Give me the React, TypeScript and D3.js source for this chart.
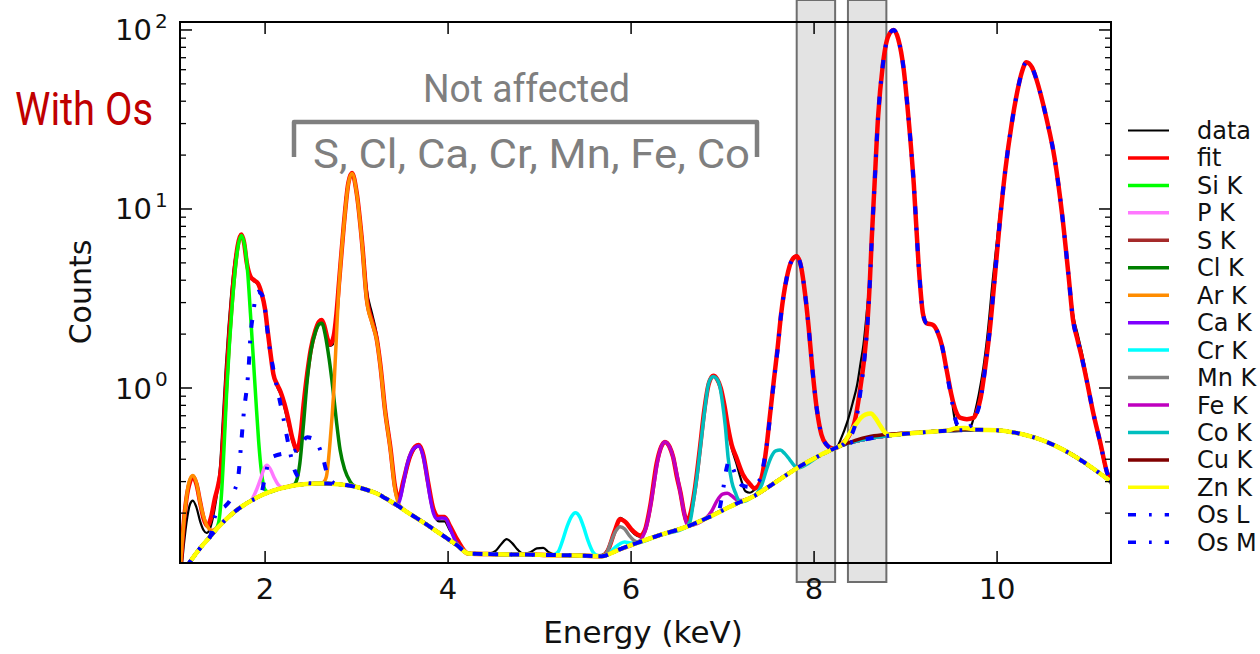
import React from "react";
import * as d3 from "d3";

type Pt = [number, number];

// ---------------- DATA (energy keV, counts) ----------------
const background: Pt[] = [
  [1.14, 0.1], [1.18, 0.107], [1.25, 0.12], [1.32, 0.133], [1.4, 0.148], [1.48, 0.165], [1.55, 0.18],
  [1.62, 0.194], [1.69, 0.208], [1.77, 0.222], [1.85, 0.235], [1.95, 0.25], [2.05, 0.263], [2.15, 0.273],
  [2.25, 0.281], [2.35, 0.287], [2.45, 0.291], [2.55, 0.293], [2.67, 0.293], [2.8, 0.29], [2.9, 0.286],
  [3.0, 0.28], [3.1, 0.271], [3.2, 0.26], [3.33, 0.24], [3.45, 0.22], [3.57, 0.2], [3.69, 0.183],
  [3.8, 0.168], [3.95, 0.149], [4.1, 0.132], [4.22, 0.119], [4.5, 0.118], [5.0, 0.117], [5.4, 0.116],
  [5.68, 0.115], [5.85, 0.124], [6.06, 0.136], [6.3, 0.15], [6.61, 0.168], [6.85, 0.19], [7.0, 0.207],
  [7.15, 0.226], [7.33, 0.247], [7.5, 0.28], [7.65, 0.315], [7.81, 0.356], [8.07, 0.422], [8.23, 0.462],
  [8.4, 0.495], [8.6, 0.522], [8.78, 0.539], [9.0, 0.555], [9.2, 0.566], [9.4, 0.575], [9.6, 0.581],
  [9.8, 0.584], [10.0, 0.58], [10.15, 0.568], [10.3, 0.548], [10.5, 0.51], [10.65, 0.472], [10.8, 0.43],
  [10.95, 0.385], [11.1, 0.34], [11.245, 0.3],
];

const measured: Pt[] = [
  [1.08, 0.09], [1.11, 0.13], [1.15, 0.19], [1.18, 0.225], [1.21, 0.235], [1.25, 0.215], [1.29, 0.18],
  [1.33, 0.16], [1.36, 0.155], [1.4, 0.165], [1.44, 0.2], [1.48, 0.27], [1.51, 0.38], [1.54, 0.7],
  [1.57, 1.3], [1.6, 2.2], [1.63, 3.4], [1.66, 4.8], [1.7, 6.3], [1.74, 7.1], [1.77, 6.4], [1.8, 5.0],
  [1.84, 4.2], [1.88, 3.95], [1.92, 3.8], [1.96, 3.3], [2.0, 2.7], [2.03, 2.0], [2.06, 1.5], [2.09, 1.18],
  [2.13, 1.02], [2.17, 0.92], [2.21, 0.78], [2.25, 0.64], [2.3, 0.5], [2.35, 0.44], [2.39, 0.54],
  [2.42, 0.78], [2.46, 1.18], [2.5, 1.62], [2.55, 2.1], [2.59, 2.3], [2.62, 2.35], [2.65, 2.15],
  [2.68, 1.9], [2.71, 1.72], [2.74, 1.75], [2.77, 2.2], [2.8, 3.4], [2.85, 7.5], [2.9, 13.5], [2.95, 15.6],
  [3.0, 12.6], [3.06, 7.0], [3.11, 3.6], [3.17, 2.6], [3.22, 2.0], [3.26, 1.4], [3.31, 0.8], [3.37, 0.48],
  [3.42, 0.29], [3.46, 0.245], [3.51, 0.29], [3.58, 0.4], [3.64, 0.46], [3.68, 0.47], [3.73, 0.41],
  [3.78, 0.29], [3.84, 0.2], [3.9, 0.18], [3.96, 0.18], [4.02, 0.16], [4.1, 0.138], [4.22, 0.119],
  [4.35, 0.118], [4.45, 0.119], [4.52, 0.123], [4.58, 0.134], [4.64, 0.143], [4.7, 0.136], [4.76, 0.125],
  [4.82, 0.119], [4.9, 0.121], [4.97, 0.127], [5.04, 0.128], [5.1, 0.121], [5.18, 0.117], [5.3, 0.117],
  [5.45, 0.116], [5.6, 0.116], [5.68, 0.117], [5.75, 0.127], [5.82, 0.16], [5.88, 0.188], [5.94, 0.178],
  [6.0, 0.16], [6.06, 0.15], [6.1, 0.148], [6.15, 0.16], [6.21, 0.22], [6.28, 0.38], [6.33, 0.47],
  [6.37, 0.5], [6.42, 0.47], [6.46, 0.41], [6.5, 0.32], [6.54, 0.26], [6.58, 0.2], [6.61, 0.18],
  [6.65, 0.2], [6.7, 0.28], [6.75, 0.45], [6.8, 0.75], [6.85, 1.06], [6.9, 1.17], [6.94, 1.12],
  [6.98, 1.0], [7.02, 0.78], [7.06, 0.57], [7.1, 0.46], [7.15, 0.38], [7.2, 0.31], [7.25, 0.265],
  [7.3, 0.26], [7.35, 0.27], [7.4, 0.29], [7.44, 0.34], [7.48, 0.47], [7.52, 0.72], [7.56, 1.1],
  [7.6, 1.65], [7.64, 2.6], [7.7, 4.1], [7.76, 5.25], [7.81, 5.5], [7.86, 4.7], [7.9, 3.4], [7.94, 2.2],
  [7.98, 1.3], [8.03, 0.76], [8.08, 0.55], [8.14, 0.48], [8.2, 0.46], [8.25, 0.47], [8.3, 0.53],
  [8.36, 0.64], [8.42, 0.82], [8.47, 1.04], [8.51, 1.4], [8.54, 1.75], [8.58, 2.8], [8.61, 4.3],
  [8.63, 6.9], [8.66, 13.5], [8.7, 33], [8.75, 63], [8.81, 92], [8.87, 100], [8.92, 89], [8.98, 60],
  [9.03, 33], [9.09, 13.7], [9.14, 5.1], [9.19, 2.6], [9.23, 2.3], [9.3, 2.25], [9.35, 2.05], [9.4, 1.7],
  [9.45, 1.25], [9.5, 0.9], [9.53, 0.7], [9.56, 0.61], [9.6, 0.58], [9.66, 0.58], [9.72, 0.62],
  [9.76, 0.74], [9.8, 0.92], [9.85, 1.3], [9.9, 2.1], [9.95, 3.9], [10.02, 8.5], [10.09, 16.5],
  [10.16, 30], [10.22, 45], [10.27, 58], [10.32, 66], [10.38, 62], [10.43, 53], [10.48, 43], [10.54, 32],
  [10.63, 19], [10.71, 9.6], [10.78, 4.5], [10.83, 2.6], [10.88, 2.0], [10.93, 1.55], [10.98, 1.15],
  [11.05, 0.73], [11.13, 0.47], [11.2, 0.33], [11.245, 0.29],
];

const fitted: Pt[] = [
  [1.07, 0.09], [1.1, 0.15], [1.14, 0.24], [1.18, 0.3], [1.21, 0.32], [1.25, 0.29], [1.29, 0.23],
  [1.33, 0.185], [1.37, 0.17], [1.41, 0.19], [1.45, 0.24], [1.49, 0.29], [1.52, 0.36], [1.55, 0.6],
  [1.58, 1.15], [1.61, 2.0], [1.64, 3.2], [1.67, 4.7], [1.7, 6.2], [1.74, 7.2], [1.77, 6.5], [1.8, 5.0],
  [1.84, 4.2], [1.88, 4.0], [1.92, 3.85], [1.96, 3.4], [2.0, 2.75], [2.03, 2.05], [2.06, 1.55],
  [2.09, 1.2], [2.13, 1.05], [2.17, 0.95], [2.21, 0.82], [2.25, 0.68], [2.3, 0.52], [2.35, 0.45],
  [2.39, 0.56], [2.42, 0.8], [2.46, 1.2], [2.5, 1.65], [2.55, 2.1], [2.59, 2.35], [2.62, 2.4],
  [2.65, 2.2], [2.68, 1.9], [2.71, 1.75], [2.75, 1.95], [2.78, 2.6], [2.81, 4.0], [2.86, 8.1],
  [2.91, 14.0], [2.95, 15.9], [3.0, 12.4], [3.06, 6.5], [3.11, 3.2], [3.17, 2.35], [3.22, 1.88],
  [3.26, 1.34], [3.31, 0.76], [3.37, 0.46], [3.42, 0.28], [3.46, 0.24], [3.51, 0.3], [3.58, 0.41],
  [3.64, 0.47], [3.68, 0.48], [3.73, 0.42], [3.78, 0.3], [3.84, 0.21], [3.9, 0.19], [3.96, 0.19],
  [4.02, 0.17], [4.1, 0.142], [4.22, 0.119], [4.5, 0.118], [5.0, 0.117], [5.4, 0.116], [5.68, 0.115],
  [5.75, 0.125], [5.82, 0.158], [5.88, 0.185], [5.94, 0.178], [6.0, 0.163], [6.06, 0.153], [6.1, 0.15],
  [6.15, 0.16], [6.21, 0.22], [6.28, 0.38], [6.33, 0.47], [6.37, 0.5], [6.42, 0.47], [6.46, 0.41],
  [6.5, 0.32], [6.54, 0.26], [6.58, 0.2], [6.61, 0.18], [6.65, 0.2], [6.7, 0.28], [6.75, 0.45],
  [6.8, 0.75], [6.85, 1.06], [6.9, 1.17], [6.94, 1.12], [6.98, 1.0], [7.02, 0.8], [7.06, 0.6],
  [7.1, 0.48], [7.15, 0.41], [7.22, 0.33], [7.3, 0.29], [7.35, 0.275], [7.4, 0.29], [7.44, 0.34],
  [7.48, 0.47], [7.52, 0.72], [7.56, 1.1], [7.6, 1.65], [7.64, 2.6], [7.7, 4.1], [7.76, 5.2],
  [7.81, 5.45], [7.86, 4.7], [7.9, 3.4], [7.94, 2.2], [7.98, 1.3], [8.03, 0.76], [8.08, 0.55],
  [8.14, 0.48], [8.2, 0.46], [8.25, 0.465], [8.33, 0.5], [8.44, 0.64], [8.51, 1.04], [8.55, 1.5],
  [8.58, 2.2], [8.61, 4.0], [8.63, 6.8], [8.66, 13.5], [8.7, 33], [8.75, 63], [8.81, 92], [8.87, 100],
  [8.92, 89], [8.98, 60], [9.03, 33], [9.09, 13.7], [9.14, 5.1], [9.19, 2.6], [9.23, 2.3], [9.3, 2.25],
  [9.35, 2.05], [9.4, 1.7], [9.45, 1.25], [9.5, 0.92], [9.55, 0.74], [9.6, 0.68], [9.67, 0.67],
  [9.74, 0.68], [9.78, 0.74], [9.82, 0.88], [9.87, 1.3], [9.92, 2.1], [9.97, 3.9], [10.03, 8.5],
  [10.09, 16.5], [10.16, 30], [10.22, 45], [10.27, 58], [10.32, 66], [10.38, 62], [10.43, 53],
  [10.48, 43], [10.54, 32], [10.63, 19], [10.71, 9.4], [10.78, 4.3], [10.83, 2.4], [10.88, 1.85],
  [10.93, 1.45], [10.98, 1.1], [11.05, 0.73], [11.13, 0.49], [11.2, 0.34], [11.245, 0.3],
];

// element components: peak parts (on top of the background)
const siK: Pt[][] = [[
  [1.45, 0.16], [1.49, 0.175], [1.52, 0.24], [1.55, 0.45], [1.58, 0.95], [1.61, 1.75], [1.64, 2.9],
  [1.67, 4.4], [1.7, 6.0], [1.74, 7.1], [1.78, 6.1], [1.81, 4.4], [1.84, 2.6], [1.87, 1.5], [1.9, 0.85],
  [1.93, 0.5], [1.96, 0.34], [2.0, 0.27], [2.04, 0.262],
]];
const pK: Pt[][] = [[
  [1.8, 0.228], [1.85, 0.236], [1.9, 0.265], [1.95, 0.31], [1.99, 0.355], [2.02, 0.37], [2.06, 0.35],
  [2.1, 0.315], [2.14, 0.29], [2.19, 0.278],
]];
const sK: Pt[][] = [[[2.2, 0.277], [2.3, 0.286], [2.4, 0.29]]];
const clK: Pt[][] = [[
  [2.3, 0.284], [2.34, 0.3], [2.38, 0.38], [2.42, 0.63], [2.46, 1.1], [2.5, 1.6], [2.55, 2.05],
  [2.59, 2.27], [2.62, 2.3], [2.66, 1.95], [2.7, 1.45], [2.74, 1.0], [2.78, 0.65], [2.82, 0.45],
  [2.87, 0.35], [2.93, 0.3], [2.98, 0.282],
]];
const arK: Pt[][] = [
  [[1.05, 0.06], [1.09, 0.13], [1.13, 0.22], [1.17, 0.3], [1.21, 0.325], [1.25, 0.295], [1.29, 0.23],
   [1.33, 0.19], [1.37, 0.168], [1.42, 0.16], [1.47, 0.165]],
  [[2.6, 0.293], [2.64, 0.298], [2.67, 0.32], [2.71, 0.5], [2.75, 0.95], [2.8, 3.2], [2.86, 8.0],
   [2.91, 13.9], [2.95, 15.8], [3.0, 12.3], [3.06, 6.4], [3.11, 3.1], [3.17, 2.3], [3.22, 1.85],
   [3.26, 1.32], [3.31, 0.75], [3.37, 0.45], [3.42, 0.27], [3.46, 0.225], [3.5, 0.213]],
];
const caK: Pt[][] = [[
  [3.44, 0.222], [3.47, 0.235], [3.51, 0.29], [3.55, 0.37], [3.6, 0.44], [3.65, 0.47], [3.68, 0.475],
  [3.72, 0.43], [3.76, 0.34], [3.8, 0.25], [3.84, 0.2], [3.88, 0.186], [3.93, 0.188], [3.97, 0.187],
  [4.02, 0.165], [4.08, 0.14], [4.15, 0.126], [4.22, 0.119],
]];
const crK: Pt[][] = [
  [[5.15, 0.117], [5.2, 0.121], [5.25, 0.14], [5.3, 0.168], [5.35, 0.192], [5.39, 0.201], [5.44, 0.19],
   [5.48, 0.168], [5.53, 0.14], [5.58, 0.122], [5.63, 0.116]],
  [[5.75, 0.119], [5.82, 0.128], [5.88, 0.135], [5.93, 0.138], [5.99, 0.136], [6.05, 0.136]],
];
const mnK: Pt[][] = [[
  [5.7, 0.116], [5.74, 0.122], [5.78, 0.138], [5.83, 0.158], [5.88, 0.168], [5.93, 0.163],
  [5.98, 0.15], [6.03, 0.141], [6.08, 0.138],
]];
const feK: Pt[][] = [
  [[6.08, 0.138], [6.12, 0.145], [6.17, 0.17], [6.21, 0.215], [6.25, 0.29], [6.29, 0.39], [6.33, 0.47],
   [6.37, 0.5], [6.41, 0.48], [6.46, 0.41], [6.5, 0.33], [6.54, 0.258], [6.58, 0.2], [6.62, 0.17]],
  [[6.82, 0.188], [6.88, 0.205], [6.94, 0.235], [7.0, 0.255], [7.05, 0.258], [7.1, 0.25], [7.15, 0.238],
   [7.2, 0.235]],
];
const coK: Pt[][] = [
  [[6.6, 0.167], [6.645, 0.18], [6.68, 0.23], [6.72, 0.32], [6.76, 0.48], [6.8, 0.72], [6.845, 1.05],
   [6.87, 1.13], [6.9, 1.16], [6.94, 1.12], [6.97, 1.02], [7.0, 0.82], [7.03, 0.61], [7.06, 0.41],
   [7.1, 0.3], [7.14, 0.26], [7.18, 0.235], [7.22, 0.232]],
  [[7.38, 0.26], [7.43, 0.29], [7.48, 0.35], [7.53, 0.41], [7.58, 0.445], [7.63, 0.45], [7.68, 0.43],
   [7.73, 0.4], [7.78, 0.37], [7.82, 0.358]],
];
const cuK: Pt[][] = [[
  [8.3, 0.477], [8.45, 0.51], [8.6, 0.535], [8.75, 0.548], [8.9, 0.556], [9.05, 0.562], [9.3, 0.572],
  [9.5, 0.58], [9.65, 0.585],
]];
const znK: Pt[][] = [
  [[8.26, 0.468], [8.32, 0.49], [8.4, 0.57], [8.46, 0.63], [8.51, 0.68], [8.56, 0.71], [8.62, 0.72],
   [8.67, 0.68], [8.72, 0.62], [8.78, 0.56], [8.84, 0.545]],
  [[9.45, 0.578], [9.55, 0.595], [9.65, 0.597], [9.75, 0.588]],
];
const osL: Pt[][] = [
  [[1.95, 0.25], [2.0, 0.32], [2.05, 0.4], [2.12, 0.42], [2.2, 0.43], [2.3, 0.44], [2.38, 0.47],
   [2.46, 0.53], [2.53, 0.52], [2.58, 0.48], [2.63, 0.41], [2.68, 0.33], [2.73, 0.3], [2.78, 0.291]],
  [[6.95, 0.2], [7.0, 0.26], [7.04, 0.35], [7.07, 0.39], [7.11, 0.36], [7.16, 0.31], [7.22, 0.285],
   [7.3, 0.28], [7.36, 0.29], [7.41, 0.31], [7.45, 0.38], [7.48, 0.47], [7.52, 0.7], [7.56, 1.08],
   [7.6, 1.62], [7.64, 2.6], [7.7, 4.1], [7.76, 5.2], [7.81, 5.45], [7.86, 4.7], [7.9, 3.4], [7.94, 2.2],
   [7.98, 1.3], [8.03, 0.76], [8.08, 0.55], [8.14, 0.48], [8.2, 0.46], [8.25, 0.465], [8.33, 0.49],
   [8.44, 0.6], [8.51, 0.98], [8.55, 1.45], [8.58, 2.15], [8.61, 3.9], [8.63, 6.7], [8.66, 13.4],
   [8.7, 33], [8.75, 63], [8.81, 92], [8.87, 100], [8.92, 89], [8.98, 60], [9.03, 33], [9.09, 13.7],
   [9.14, 5.1], [9.19, 2.6], [9.23, 2.3], [9.3, 2.25], [9.35, 2.05], [9.4, 1.7], [9.45, 1.22],
   [9.5, 0.88], [9.54, 0.68], [9.58, 0.61], [9.65, 0.6], [9.72, 0.62], [9.77, 0.7], [9.82, 0.86],
   [9.87, 1.3], [9.92, 2.1], [9.97, 3.9], [10.03, 8.5], [10.09, 16.5], [10.16, 30], [10.22, 45],
   [10.27, 58], [10.32, 66], [10.38, 62], [10.43, 53], [10.48, 43], [10.54, 32], [10.63, 19],
   [10.71, 9.4], [10.78, 4.3], [10.83, 2.4], [10.88, 1.85], [10.93, 1.45], [10.98, 1.1], [11.05, 0.73],
   [11.13, 0.49], [11.2, 0.34], [11.245, 0.3]],
];
const osM: Pt[][] = [[
  [1.4, 0.148], [1.45, 0.19], [1.5, 0.21], [1.56, 0.218], [1.62, 0.237], [1.67, 0.27], [1.71, 0.33],
  [1.74, 0.5], [1.77, 0.75], [1.8, 1.0], [1.82, 1.3], [1.84, 1.95], [1.87, 2.6], [1.89, 3.1],
  [1.92, 3.45], [1.96, 3.35], [1.99, 3.0], [2.02, 2.2], [2.06, 1.55], [2.1, 1.2], [2.15, 0.9],
  [2.2, 0.68], [2.26, 0.47], [2.32, 0.35], [2.38, 0.31], [2.45, 0.295],
]];

const seriesNames = ["data", "fit", "Si K", "P K", "S K", "Cl K", "Ar K", "Ca K", "Cr K", "Mn K",
  "Fe K", "Co K", "Cu K", "Zn K", "Os L", "Os M"];
const componentParts: Pt[][][] = [siK, pK, sK, clK, arK, caK, crK, mnK, feK, coK, cuK, znK, osL, osM];

const xTickValues = [2, 4, 6, 8, 10];
const yDecades = [0, 1, 2];
const highlightBands: Pt[] = [[7.81, 8.23], [8.37, 8.79]];
const annotationTitle = "Not affected";
const annotationElements = "S, Cl, Ca, Cr, Mn, Fe, Co";
const sideLabel = "With Os";

// ---------------- STYLES ----------------
const seriesStyle: Record<string, { color: string; width: number; dash?: string }> = {
  "data": { color: "#000000", width: 2.2 },
  "fit": { color: "#ff0000", width: 4.5 },
  "Si K": { color: "#00ff00", width: 3.5 },
  "P K": { color: "#ff77ff", width: 3.5 },
  "S K": { color: "#a52a2a", width: 3.5 },
  "Cl K": { color: "#008000", width: 3.5 },
  "Ar K": { color: "#ff8c00", width: 3.5 },
  "Ca K": { color: "#7f00ff", width: 3.5 },
  "Cr K": { color: "#00ffff", width: 3.5 },
  "Mn K": { color: "#808080", width: 3.5 },
  "Fe K": { color: "#bf00bf", width: 3.5 },
  "Co K": { color: "#00bfbf", width: 3.5 },
  "Cu K": { color: "#800000", width: 3.5 },
  "Zn K": { color: "#ffff00", width: 4.5 },
  "Os L": { color: "#0000ff", width: 4, dash: "8,13,2.7,13" },
  "Os M": { color: "#0000ff", width: 4, dash: "8,13,2.7,13" },
};

function compose(parts: Pt[][]): Pt[] {
  const ranges = parts.map((p) => [p[0][0], p[p.length - 1][0]]);
  const base = background.filter(([e]) => !ranges.some(([a, b]) => e >= a - 0.01 && e <= b + 0.01));
  return [...base, ...parts.flat()].sort((a, b) => a[0] - b[0]);
}

export default function App() {
  const W = 1260, H = 654;
  const L = 180, R = 1111, T = 22, B = 563;
  const x = d3.scaleLinear().domain([1.07, 11.245]).range([L, R]);
  const y = d3.scaleLog().domain([0.1053, 110.8]).range([B, T]);
  const line = d3.line<Pt>().x((d) => x(d[0])).y((d) => y(d[1])).curve(d3.curveMonotoneX);

  const allSeries: Pt[][] = [measured, fitted, ...componentParts.map(compose)];

  const minorTicks: number[] = [];
  for (let d = -1; d <= 2; d++) {
    for (let k = 2; k <= 9; k++) {
      const v = k * Math.pow(10, d);
      if (v > 0.1053 && v < 110.8) minorTicks.push(v);
    }
  }
  const tickFont = "'DejaVu Sans', sans-serif";
  const textColor = "#111";
  const rowY = (i: number) => 130.5 + i * 27.45;

  return (
    <svg width={W} height={H} style={{ position: "absolute", left: 0, top: 0, background: "#fff" }}>
      <defs>
        <clipPath id="plotClip">
          <rect x={L} y={T} width={R - L} height={B - T} />
        </clipPath>
      </defs>
      <rect x={0} y={0} width={W} height={H} fill="#fff" />
      {highlightBands.map(([a, b], i) => (
        <rect key={i} x={x(a)} y={0} width={x(b) - x(a)} height={582} fill="#e3e3e3" stroke="#6e6e6e" strokeWidth={2} />
      ))}
      <g clipPath="url(#plotClip)">
        {allSeries.map((pts, i) => {
          const st = seriesStyle[seriesNames[i]];
          return (
            <path key={i} d={line(pts) || ""} fill="none" stroke={st.color} strokeWidth={st.width}
              strokeDasharray={st.dash} strokeLinejoin="round" />
          );
        })}
      </g>
      {/* frame */}
      <rect x={L} y={T} width={R - L} height={B - T} fill="none" stroke="#000" strokeWidth={2} />
      {/* x ticks */}
      {xTickValues.map((v) => (
        <g key={v}>
          <line x1={x(v)} x2={x(v)} y1={B} y2={B - 12} stroke="#000" strokeWidth={1.5} />
          <line x1={x(v)} x2={x(v)} y1={T} y2={T + 12} stroke="#000" strokeWidth={1.5} />
          <text x={x(v)} y={599} textAnchor="middle" fontFamily={tickFont} fontSize={29} fill={textColor}>{v}</text>
        </g>
      ))}
      {/* y ticks */}
      {yDecades.map((d) => {
        const yy = y(Math.pow(10, d));
        return (
          <g key={d}>
            <line x1={L} x2={L + 12} y1={yy} y2={yy} stroke="#000" strokeWidth={1.5} />
            <line x1={R} x2={R - 12} y1={yy} y2={yy} stroke="#000" strokeWidth={1.5} />
            <text x={152} y={yy + 10.5} textAnchor="end" fontFamily={tickFont} fontSize={29} fill={textColor}>10</text>
            <text x={155} y={yy - 2} textAnchor="start" fontFamily={tickFont} fontSize={20} fill={textColor}>{d}</text>
          </g>
        );
      })}
      {minorTicks.map((v, i) => (
        <g key={i}>
          <line x1={L} x2={L + 6} y1={y(v)} y2={y(v)} stroke="#000" strokeWidth={1.3} />
          <line x1={R} x2={R - 6} y1={y(v)} y2={y(v)} stroke="#000" strokeWidth={1.3} />
        </g>
      ))}
      {/* axis labels */}
      <text x={643} y={643} textAnchor="middle" fontFamily={tickFont} fontSize={31} fill={textColor}>Energy (keV)</text>
      <text transform="translate(91,292) rotate(-90)" textAnchor="middle" fontFamily={tickFont} fontSize={30} fill={textColor}>Counts</text>
      {/* legend */}
      {seriesNames.map((name, i) => {
        const st = seriesStyle[name];
        const ry = rowY(i);
        return (
          <g key={name}>
            <line x1={1128} x2={1169} y1={ry} y2={ry} stroke={st.color} strokeWidth={Math.min(st.width, 3.5)}
              strokeDasharray={st.dash} />
            <text x={1197} y={ry + 8.5} fontFamily={tickFont} fontSize={24} fill={textColor}>{name}</text>
          </g>
        );
      })}
      {/* annotations */}
      <text x={526.5} y={101.7} textAnchor="middle" fontFamily="Roboto, 'Liberation Sans', sans-serif" fontSize={38}
        fill="#7f7f7f" textLength={207} lengthAdjust="spacingAndGlyphs">{annotationTitle}</text>
      <path d="M294,157 L294,122 L757,122 L757,157" fill="none" stroke="#7f7f7f" strokeWidth={4.5} strokeLinejoin="round" />
      <text x={531.5} y={168.3} textAnchor="middle" fontFamily="Roboto, 'Liberation Sans', sans-serif" fontSize={40}
        fill="#7f7f7f" textLength={437} lengthAdjust="spacingAndGlyphs">{annotationElements}</text>
      <text x={15} y={125} fontFamily="Roboto, 'Liberation Sans', sans-serif" fontSize={46}
        fill="#c00000" textLength={138} lengthAdjust="spacingAndGlyphs">{sideLabel}</text>
    </svg>
  );
}
